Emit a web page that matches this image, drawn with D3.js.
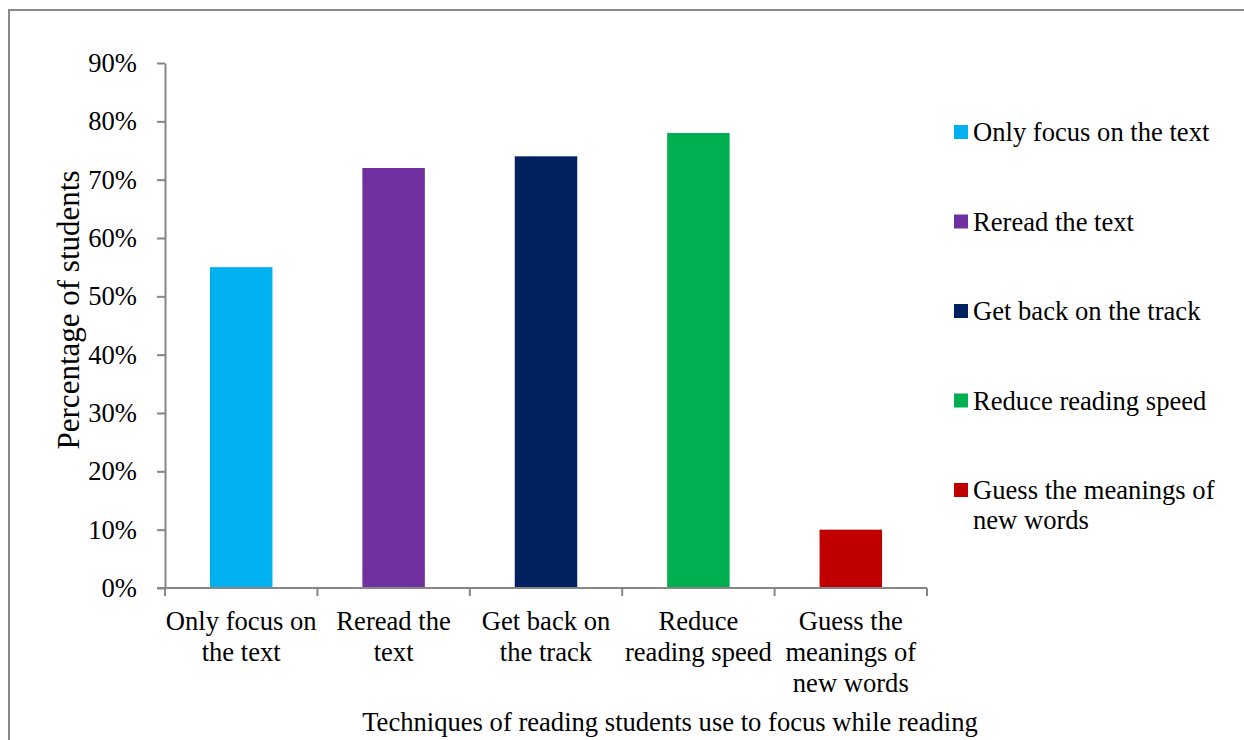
<!DOCTYPE html>
<html lang="en">
<head>
    <meta charset="UTF-8">
    <title>Reading techniques</title>
    <script src="https://d3js.org/d3.v7.min.js"></script>
    <style>
        body {margin: 0; background: white;}
        text {
            font-family: "Liberation Serif", "Times New Roman", serif;
            font-size: 26.6px;
            fill: #000;
        }
    </style>
</head>
<body>
<script>
    const width = 1244;
    const height = 740;

    // data
    const categories = ["Only focus on the text", "Reread the text", "Get back on the track",
                        "Reduce reading speed", "Guess the meanings of new words"];
    const values = [0.55, 0.72, 0.74, 0.78, 0.10];
    const colors = ["#00B0F0", "#7030A0", "#002060", "#00B050", "#C00000"];
    const axisLabelLines = [["Only focus on", "the text"], ["Reread the", "text"], ["Get back on", "the track"],
                            ["Reduce", "reading speed"], ["Guess the", "meanings of", "new words"]];
    const legendLines = [["Only focus on the text"], ["Reread the text"], ["Get back on the track"],
                         ["Reduce reading speed"], ["Guess the meanings of", "new words"]];
    const yTicks = [0, 0.1, 0.2, 0.3, 0.4, 0.5, 0.6, 0.7, 0.8, 0.9];

    const plot = {left: 165, right: 927, top: 63, bottom: 588};

    const svg = d3.select("body").append("svg")
            .attr("width", width).attr("height", height);

    // outer chart frame (runs off the right and bottom of the picture)
    svg.append("rect")
            .attr("x", 9).attr("y", 10)
            .attr("width", width + 20).attr("height", height + 20)
            .style("fill", "none")
            .style("stroke", "#888")
            .style("stroke-width", 2);

    const x = d3.scaleBand()
            .domain(categories)
            .range([plot.left, plot.right])
            .padding(0);

    const y = d3.scaleLinear()
            .domain([0, 0.9])
            .range([plot.bottom, plot.top]);

    const barW = x.bandwidth() * 0.41;

    svg.selectAll("rect.bar")
            .data(categories)
            .enter()
            .append("rect")
            .attr("class", "bar")
            .attr("x", (d, i) => x(d) + (x.bandwidth() - barW) / 2)
            .attr("y", (d, i) => y(values[i]))
            .attr("width", barW)
            .attr("height", (d, i) => y(0) - y(values[i]))
            .style("fill", (d, i) => colors[i]);

    // y axis
    const yAxis = svg.append("g")
            .attr("transform", `translate(${plot.left},0)`)
            .call(d3.axisLeft(y).tickValues(yTicks).tickFormat(d3.format(".0%"))
                    .tickSize(8).tickSizeOuter(0).tickPadding(20));
    yAxis.selectAll("line, path").style("stroke", "#868686").style("stroke-width", 2);
    yAxis.selectAll("text").style("font-size", "26.6px")
            .style("font-family", '"Liberation Serif", "Times New Roman", serif');

    // x axis line and boundary ticks
    const xg = svg.append("g");
    xg.append("line")
            .attr("x1", plot.left - 8).attr("x2", plot.right)
            .attr("y1", y(0)).attr("y2", y(0))
            .style("stroke", "#868686").style("stroke-width", 2);
    const bounds = categories.map(c => x(c)).concat([x.range()[1]]);
    xg.selectAll("line.tick")
            .data(bounds)
            .enter()
            .append("line")
            .attr("class", "tick")
            .attr("x1", d => d).attr("x2", d => d)
            .attr("y1", y(0)).attr("y2", y(0) + 8)
            .style("stroke", "#868686").style("stroke-width", 2);

    const xl = xg.selectAll("text.cat")
            .data(categories)
            .enter()
            .append("text")
            .attr("class", "cat")
            .attr("text-anchor", "middle");
    xl.each(function(d, i) {
        d3.select(this).selectAll("tspan")
                .data(axisLabelLines[i])
                .enter()
                .append("tspan")
                .attr("x", x(d) + x.bandwidth() / 2)
                .attr("y", (t, j) => 630 + j * 31)
                .text(t => t);
    });

    // axis titles
    svg.append("text")
            .attr("x", 670).attr("y", 731)
            .attr("text-anchor", "middle")
            .text("Techniques of reading students use to focus while reading");

    svg.append("text")
            .attr("transform", "translate(79,310) rotate(-90)")
            .attr("text-anchor", "middle")
            .style("font-size", "31px")
            .text("Percentage of students");

    // legend
    const legend = svg.selectAll("g.legend")
            .data(categories)
            .enter()
            .append("g")
            .attr("class", "legend")
            .attr("transform", (d, i) => `translate(954,${132 + i * 89.5})`);

    legend.append("rect")
            .attr("x", 0).attr("y", -7)
            .attr("width", 14).attr("height", 14)
            .style("fill", (d, i) => colors[i]);

    legend.append("text")
            .each(function(d, i) {
                d3.select(this).selectAll("tspan")
                        .data(legendLines[i])
                        .enter()
                        .append("tspan")
                        .attr("x", 19)
                        .attr("y", (t, j) => 9 + j * 30)
                        .text(t => t);
            });
</script>
</body>
</html>
